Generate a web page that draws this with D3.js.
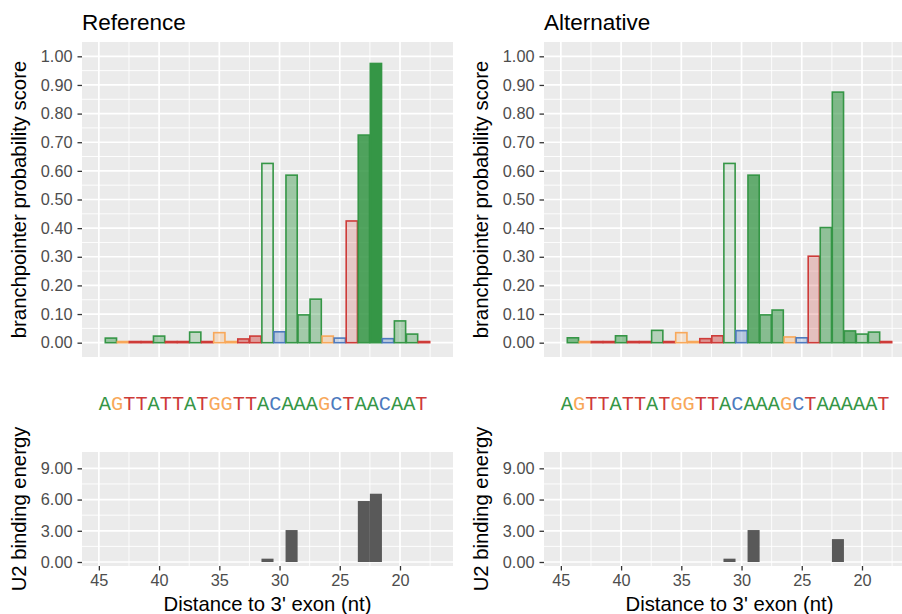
<!DOCTYPE html>
<meta charset="utf-8">
<script src="https://d3js.org/d3.v7.min.js"></script>
<style>
  body { margin: 0; background: #fff; }
  text { font-family: "Liberation Sans", Arial, sans-serif; }
</style>
<div id="chart"></div>
<script>

// positions (distance to 3' exon) and the two sequences
var positions = [44, 43, 42, 41, 40, 39, 38, 37, 36, 35, 34, 33, 32, 31, 30, 29, 28, 27, 26, 25, 24, 23, 22, 21, 20, 19, 18];
var refSeq = "AGTTATTATGGTTACAAAGCTAACAAT";
var altSeq = "AGTTATTATGGTTACAAAGCTAAAAAT";

// branchpointer probability score
var refProb = [0.016, 0.004, 0.004, 0.004, 0.023, 0.004, 0.004, 0.037, 0.004, 0.035, 0.004, 0.013, 0.023, 0.626,
               0.038, 0.585, 0.097, 0.152, 0.023, 0.016, 0.425, 0.725, 0.975, 0.014, 0.076, 0.030, 0.004];
var altProb = [0.017, 0.004, 0.004, 0.004, 0.024, 0.004, 0.004, 0.043, 0.004, 0.035, 0.004, 0.014, 0.024, 0.626,
               0.042, 0.585, 0.097, 0.114, 0.020, 0.017, 0.302, 0.402, 0.875, 0.041, 0.030, 0.037, 0.004];

// fill opacity of each bar
var refAlpha = [0.45, 0.3, 0.3, 0.3, 0.4, 0.3, 0.3, 0.22, 0.3, 0.25, 0.3, 0.5, 0.45, 0.08,
                0.35, 0.43, 0.4, 0.38, 0.3, 0.2, 0.2, 0.86, 1.0, 0.3, 0.35, 0.35, 0.3];
var altAlpha = [0.6, 0.3, 0.3, 0.3, 0.5, 0.3, 0.3, 0.3, 0.3, 0.2, 0.3, 0.5, 0.45, 0.1,
                0.35, 0.75, 0.55, 0.55, 0.3, 0.2, 0.25, 0.5, 0.6, 0.7, 0.3, 0.4, 0.3];

// U2 binding energy
var refU2 = [0, 0, 0, 0, 0, 0, 0, 0, 0, 0, 0, 0, 0, 0.32, 0, 3.07, 0, 0, 0, 0, 0, 5.86, 6.56, 0, 0, 0, 0];
var altU2 = [0, 0, 0, 0, 0, 0, 0, 0, 0, 0, 0, 0, 0, 0.32, 0, 3.07, 0, 0, 0, 0, 0, 0, 2.2, 0, 0, 0, 0];

var ntCols = {A: "#359646", C: "#4D7ABE", G: "#F8A85A", T: "#CE3B38"};

var probTicks = [0, 0.1, 0.2, 0.3, 0.4, 0.5, 0.6, 0.7, 0.8, 0.9, 1.0];
var u2Ticks = [0, 3, 6, 9];
var xTicks = [45, 40, 35, 30, 25, 20];

var W = 902, H = 614;
var panelW = 371;
var topY = [42, 357], botY = [452, 566];

var svg = d3.select("#chart").append("svg")
  .attr("width", W).attr("height", H);
svg.append("rect").attr("width", W).attr("height", H).attr("fill", "#fff");

var yTop = d3.scaleLinear().domain([-0.05, 1.05]).range([topY[1], topY[0]]);
var yBot = d3.scaleLinear().domain([-0.384, 10.57]).range([botY[1], botY[0]]);

function drawPanel(x0, title, seq, prob, alpha, u2) {
  var x = d3.scaleLinear().domain([46.4, 15.6]).range([x0, x0 + panelW]);
  var bw = Math.abs(x(0) - x(1));
  var g = svg.append("g");

  // ---- top panel ----
  g.append("rect").attr("x", x0).attr("y", topY[0]).attr("width", panelW)
    .attr("height", topY[1] - topY[0]).attr("fill", "#EBEBEB");

  var minorY = probTicks.slice(1).map(function(d) { return d - 0.05; });
  var minorX = xTicks.map(function(d) { return d - 2.5; });

  function grid(sel, yScale, yr, yMinor, yMajor) {
    sel.selectAll(null).data(yMinor).enter().append("line")
      .attr("x1", x0).attr("x2", x0 + panelW)
      .attr("y1", yScale).attr("y2", yScale)
      .attr("stroke", "#fff").attr("stroke-width", 0.9);
    sel.selectAll(null).data(minorX).enter().append("line")
      .attr("x1", x).attr("x2", x).attr("y1", yr[0]).attr("y2", yr[1])
      .attr("stroke", "#fff").attr("stroke-width", 0.9);
    sel.selectAll(null).data(yMajor).enter().append("line")
      .attr("x1", x0).attr("x2", x0 + panelW)
      .attr("y1", yScale).attr("y2", yScale)
      .attr("stroke", "#fff").attr("stroke-width", 1.7);
    sel.selectAll(null).data(xTicks).enter().append("line")
      .attr("x1", x).attr("x2", x).attr("y1", yr[0]).attr("y2", yr[1])
      .attr("stroke", "#fff").attr("stroke-width", 1.7);
  }
  grid(g, yTop, topY, minorY, probTicks);

  var bars = positions.map(function(p, i) {
    return {pos: p, nt: seq[i], prob: prob[i], alpha: alpha[i], u2: u2[i]};
  });

  g.selectAll(null).data(bars).enter().append("rect")
    .attr("x", function(d) { return x(d.pos) - bw / 2 + 0.4; })
    .attr("width", bw - 0.8)
    .attr("y", function(d) { return yTop(d.prob); })
    .attr("height", function(d) { return Math.max(0.5, yTop(0) - yTop(d.prob)); })
    .attr("fill", function(d) { return ntCols[d.nt]; })
    .attr("fill-opacity", function(d) { return d.alpha; })
    .attr("stroke", function(d) { return ntCols[d.nt]; })
    .attr("stroke-width", 1.6);

  // y axis
  var ay = g.append("g").attr("transform", "translate(" + x0 + ",0)")
    .call(d3.axisLeft(yTop).tickValues(probTicks).tickFormat(d3.format(".2f"))
      .tickSize(4.5).tickPadding(5));
  ay.select(".domain").remove();
  ay.selectAll("line").attr("stroke", "#333").attr("stroke-width", 1.3);
  ay.selectAll("text").attr("fill", "#4D4D4D").style("font-size", "16.3px")
    .style("font-family", "'Liberation Sans', Arial, sans-serif");

  g.append("text").attr("x", x0).attr("y", 30).text(title)
    .style("font-size", "22.5px").attr("fill", "#000");

  g.append("text")
    .attr("transform", "translate(" + (x0 - 56.5) + "," + ((topY[0] + topY[1]) / 2) + ") rotate(-90)")
    .attr("text-anchor", "middle").style("font-size", "20.3px")
    .text("branchpointer probability score");

  // ---- sequence ----
  var st = g.append("text").attr("x", x(45)).attr("y", 410)
    .style("font-family", "'Liberation Mono', 'Courier New', monospace")
    .style("font-size", "20.3px");
  st.selectAll("tspan").data(seq.split("")).enter().append("tspan")
    .attr("fill", function(d) { return ntCols[d]; })
    .text(function(d) { return d; });

  // ---- bottom panel ----
  g.append("rect").attr("x", x0).attr("y", botY[0]).attr("width", panelW)
    .attr("height", botY[1] - botY[0]).attr("fill", "#EBEBEB");
  grid(g, yBot, botY, [1.5, 4.5, 7.5], u2Ticks);

  g.selectAll(null).data(bars.filter(function(d) { return d.u2 > 0; })).enter().append("rect")
    .attr("x", function(d) { return x(d.pos) - bw / 2; })
    .attr("width", bw)
    .attr("y", function(d) { return yBot(d.u2); })
    .attr("height", function(d) { return yBot(0) - yBot(d.u2); })
    .attr("fill", "#595959");

  var by = g.append("g").attr("transform", "translate(" + x0 + ",0)")
    .call(d3.axisLeft(yBot).tickValues(u2Ticks).tickFormat(d3.format(".2f"))
      .tickSize(4.5).tickPadding(5));
  by.select(".domain").remove();
  by.selectAll("line").attr("stroke", "#333").attr("stroke-width", 1.3);
  by.selectAll("text").attr("fill", "#4D4D4D").style("font-size", "16.3px")
    .style("font-family", "'Liberation Sans', Arial, sans-serif");

  var bx = g.append("g").attr("transform", "translate(0," + botY[1] + ")")
    .call(d3.axisBottom(x).tickValues(xTicks).tickFormat(d3.format("d"))
      .tickSize(4.5).tickPadding(4));
  bx.select(".domain").remove();
  bx.selectAll("line").attr("stroke", "#333").attr("stroke-width", 1.3);
  bx.selectAll("text").attr("fill", "#4D4D4D").style("font-size", "16.3px")
    .style("font-family", "'Liberation Sans', Arial, sans-serif");

  g.append("text")
    .attr("transform", "translate(" + (x0 - 56.5) + "," + ((botY[0] + botY[1]) / 2) + ") rotate(-90)")
    .attr("text-anchor", "middle").style("font-size", "20.3px")
    .text("U2 binding energy");

  g.append("text").attr("x", x0 + (x(15.6) - x0) / 2).attr("y", 611)
    .attr("text-anchor", "middle").style("font-size", "20.3px")
    .text("Distance to 3' exon (nt)");
}

drawPanel(82, "Reference", refSeq, refProb, refAlpha, refU2);
drawPanel(544, "Alternative", altSeq, altProb, altAlpha, altU2);

</script>
